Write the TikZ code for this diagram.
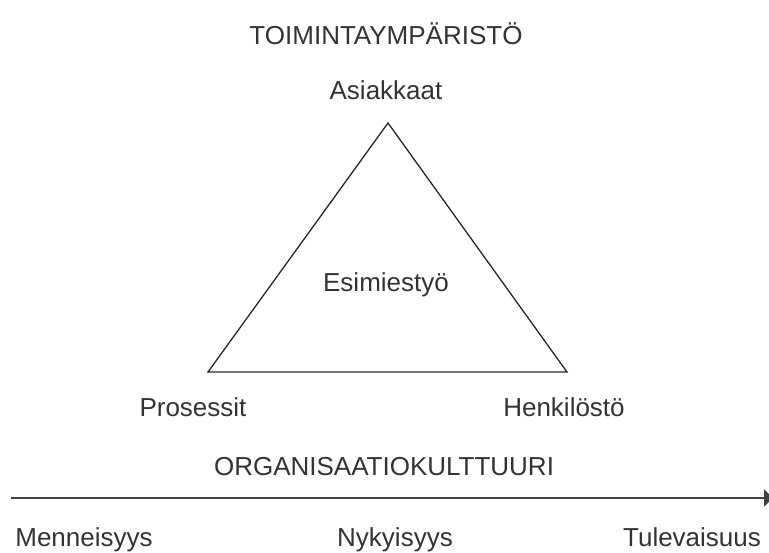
\documentclass[tikz,border=0pt]{standalone}
\usepackage{fontspec}
\setmainfont{Liberation Sans}
\usetikzlibrary{arrows.meta}
\definecolor{inkgray}{HTML}{333333}
\definecolor{linegray}{HTML}{404040}
\begin{document}
\begin{tikzpicture}[x=1pt,y=-1pt,
  lbl/.style={anchor=base,inner sep=0pt,text=inkgray,font=\fontsize{26}{30}\selectfont},
  tri/.style={draw=black!85,line width=1.3pt,line join=miter},
  timeline/.style={draw=linegray,line width=2pt,-{Triangle[length=9pt,width=17pt]}}]
\useasboundingbox (0,0) rectangle (769,552);

% triangle corners
\coordinate (top) at (388,123);
\coordinate (bl) at (208,372);
\coordinate (br) at (567,372);
\draw[tri] (top) -- (br) -- (bl) -- cycle;

% labels
\node[lbl] (env) at (386,44) {TOIMINTAYMPÄRISTÖ};
\node[lbl] (cust) at (386,99) {Asiakkaat};
\node[lbl] (lead) at (386,291) {Esimiestyö};
\node[lbl] (proc) at (193,416) {Prosessit};
\node[lbl] (staff) at (564,416) {Henkilöstö};
\node[lbl] (culture) at (384,475) {ORGANISAATIOKULTTUURI};

% time axis
\coordinate (tstart) at (11,498);
\coordinate (tend) at (773,498);
\draw[timeline] (tstart) -- (tend);
\node[lbl] (past) at (84,546) {Menneisyys};
\node[lbl] (now) at (395,546) {Nykyisyys};
\node[lbl] (future) at (692,546) {Tulevaisuus};
\end{tikzpicture}
\end{document}
